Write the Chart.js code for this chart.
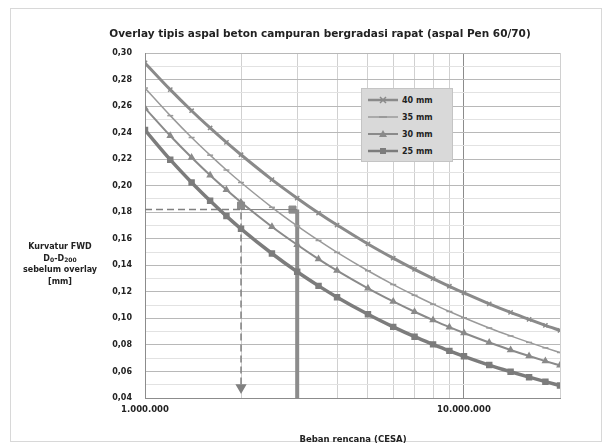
<!DOCTYPE html>
<html><head><meta charset="utf-8">
<script src="https://cdn.jsdelivr.net/npm/chart.js@4/dist/chart.umd.min.js"></script>
<style>
body{margin:0;background:#fff;font-family:"DejaVu Sans",sans-serif;}
#wrap{position:relative;width:610px;height:446px;}
#frame{position:absolute;left:10px;top:8px;width:590px;height:432px;border:1px solid #d8d8d8;}
#title{position:absolute;left:0;width:640px;top:27px;text-align:center;font-size:10.5px;font-weight:bold;color:#222;}
#ylab{position:absolute;left:12px;width:96px;top:241px;text-align:center;font-size:8px;font-weight:bold;line-height:11.5px;color:#222;}
#ylab sub{font-size:6px;vertical-align:-1px;line-height:0}
#xlab{position:absolute;left:233px;width:240px;top:434px;text-align:center;font-size:8.5px;font-weight:bold;color:#222;}
#legend{position:absolute;left:361px;top:88px;width:90px;height:72px;background:#d9d9d9;border:1px solid #c4c4c4;font-size:8px;font-weight:bold;color:#222;}
#legend .row{position:absolute;left:6px;height:14px;display:flex;align-items:center;}
#legend svg{margin-right:4px}
canvas{position:absolute;left:0;top:0;}
</style></head>
<body><div id="wrap">
<div id="frame"></div>
<canvas id="c" width="610" height="446"></canvas>
<div id="title">Overlay tipis aspal beton campuran bergradasi rapat (aspal Pen 60/70)</div>
<div id="ylab">Kurvatur FWD<br>D<sub>0</sub>-D<sub>200</sub><br>sebelum overlay<br>[mm]</div>
<div id="xlab">Beban rencana (CESA)</div>
<div id="legend"></div>
</div>
<script>
// ---- data ----
const esa = [1e6,1.2e6,1.4e6,1.6e6,1.8e6,2e6,2.5e6,3e6,3.5e6,4e6,5e6,6e6,7e6,8e6,9e6,1e7,1.2e7,1.4e7,1.6e7,1.8e7,2e7];
const seriesNames = ["40 mm","35 mm","30 mm","25 mm"];
const curve40 = [0.2925,0.2724,0.2565,0.2435,0.2326,0.2233,0.2046,0.1906,0.1794,0.1703,0.1561,0.1454,0.1369,0.1300,0.1242,0.1192,0.1110,0.1045,0.0992,0.0947,0.0909];
const curve35 = [0.2736,0.2528,0.2363,0.2230,0.2118,0.2024,0.1837,0.1697,0.1587,0.1497,0.1359,0.1255,0.1174,0.1107,0.1052,0.1005,0.0928,0.0868,0.0819,0.0778,0.0743];
const curve30 = [0.2585,0.2376,0.2212,0.2079,0.1969,0.1875,0.1691,0.1555,0.1447,0.1360,0.1227,0.1128,0.1050,0.0987,0.0934,0.0890,0.0818,0.0762,0.0716,0.0678,0.0646];
const curve25 = [0.2419,0.2196,0.2024,0.1886,0.1771,0.1675,0.1489,0.1351,0.1245,0.1160,0.1031,0.0936,0.0862,0.0804,0.0755,0.0714,0.0648,0.0598,0.0557,0.0523,0.0494];
// example reading
const exampleEsa = [1e6, 2e6, 3e6];
const exampleCurv = [0.182, 0.048, 0.04];
const exampleMarkEsa = [2e6, 2.9e6];
const exampleMarkCurv = [0.185, 0.182];
const xTickLabels = {1000000:"1.000.000", 10000000:"10.000.000"};
const yMin = 0.04, yMax = 0.30;

const styles = [
  {color:"#8a8a8a", width:3,   point:"crossRot", r:3},
  {color:"#9a9a9a", width:1.5, point:"line",     r:3},
  {color:"#8a8a8a", width:2,   point:"triangle", r:3},
  {color:"#7c7c7c", width:3.5, point:"rect",     r:3.5}
];
const curves = [curve40, curve35, curve30, curve25];
const datasets = curves.map((c,i)=>({
  label: seriesNames[i],
  data: esa.map((x,j)=>({x:x,y:c[j]})),
  borderColor: styles[i].color, backgroundColor: styles[i].color,
  borderWidth: styles[i].width, pointStyle: styles[i].point, pointRadius: styles[i].r,
  pointBorderWidth: 1.5, cubicInterpolationMode:"monotone"
}));
datasets.push({label:"dash", data:[{x:exampleEsa[0],y:exampleCurv[0]},{x:exampleEsa[1],y:exampleCurv[0]},{x:exampleEsa[1],y:exampleCurv[1]}],
  borderColor:"#808080", backgroundColor:"#808080", borderWidth:1.5, borderDash:[7,4],
  pointRadius:[0,0,5], pointStyle:"triangle", rotation:180});
datasets.push({label:"seg", data:[{x:exampleEsa[1],y:exampleCurv[0]},{x:exampleEsa[2],y:exampleCurv[0]}],
  borderColor:"#808080", borderWidth:1, pointRadius:0});
datasets.push({label:"vert", data:[{x:exampleEsa[2],y:exampleCurv[0]},{x:exampleEsa[2],y:exampleCurv[2]}],
  borderColor:"#8c8c8c", borderWidth:4, pointRadius:0});
datasets.push({label:"marks", data:exampleMarkEsa.map((x,i)=>({x:x,y:exampleMarkCurv[i]})), showLine:false,
  backgroundColor:"#8c8c8c", borderColor:"#8c8c8c", pointStyle:"rect", pointRadius:5});

new Chart(document.getElementById("c"), {
  type:"line",
  data:{datasets:datasets},
  options:{
    responsive:false, animation:false,
    layout:{padding:{top:53,right:50,left:0,bottom:0}},
    plugins:{legend:{display:false}, tooltip:{enabled:false}},
    scales:{
      x:{type:"logarithmic", min:1e6, max:2e7,
        afterBuildTicks:(s)=>{const t=[];for(let d=1e6;d<=1e7;d*=10){for(let k=1;k<=9;k++){const v=k*d;if(v>=1e6&&v<=2e7)t.push({value:v});}}t.push({value:2e7});s.ticks=t;},
        afterFit:(s)=>{s.height=48;},
        ticks:{autoSkip:false,maxRotation:0,padding:7,color:"#222",font:{family:"DejaVu Sans",size:8.5,weight:"bold"},
          callback:(v)=>xTickLabels[v]||""},
        grid:{color:(c)=>(c.tick&&(c.tick.value===1e6||c.tick.value===1e7))?"#8c8c8c":"#d0d0d0", lineWidth:1, drawTicks:false},
        border:{color:"#8c8c8c"}
      },
      y:{type:"linear", min:yMin, max:yMax,
        afterFit:(s)=>{s.width=145;},
        ticks:{stepSize:0.01,autoSkip:false,padding:13,color:"#222",font:{family:"DejaVu Sans",size:8,weight:"bold"},
          callback:(v)=>{const n=Math.round(v*100);return n%2===0?(n/100).toFixed(2).replace(".",","):"";}},
        grid:{color:(c)=>{const n=Math.round(c.tick.value*100);return n%2===0?"#b8b8b8":"#e2e2e2";}, drawTicks:false},
        border:{color:"#8c8c8c"}
      }
    }
  }
});

// HTML legend
const lg=document.getElementById("legend");
seriesNames.forEach((n,i)=>{
  const st=styles[i];
  let mk="";
  if(st.point==="rect") mk=`<rect x="12" y="3" width="6" height="6" fill="${st.color}"/>`;
  else if(st.point==="triangle") mk=`<polygon points="15,2 19,9 11,9" fill="${st.color}"/>`;
  else if(st.point==="crossRot") mk=`<path d="M12 3 L18 9 M18 3 L12 9" stroke="${st.color}" stroke-width="1.5"/>`;
  else mk=`<path d="M11 6 L19 6" stroke="${st.color}" stroke-width="2"/>`;
  const row=document.createElement("div");row.className="row";row.style.top=(4+i*17)+"px";
  row.innerHTML=`<svg width="30" height="12"><line x1="0" y1="6" x2="30" y2="6" stroke="${st.color}" stroke-width="${Math.min(st.width,2.5)}"/>${mk}</svg>${n}`;
  lg.appendChild(row);
});
</script>
</body></html>
